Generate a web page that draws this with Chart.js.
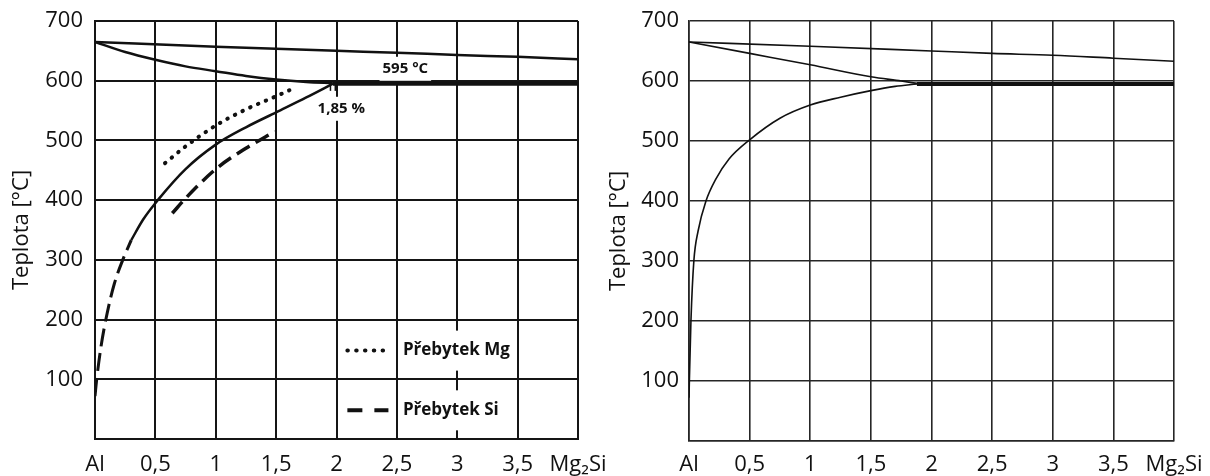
<!DOCTYPE html>
<html><head><meta charset="utf-8">
<script src="https://cdn.jsdelivr.net/npm/chart.js@4.4.1/dist/chart.umd.min.js"></script>
<style>
html,body{margin:0;padding:0;background:#fff;}
#wrap{position:relative;width:1210px;height:476px;overflow:hidden;background:#fff;}
canvas{position:absolute;top:0;}
#c1{left:0;width:620px;height:476px;}
#c2{left:600px;width:610px;height:476px;}
</style></head><body>
<div id="wrap"><canvas id="c1" width="620" height="476"></canvas><canvas id="c2" width="610" height="476"></canvas></div>
<script>
// ---- tick labels ----
const xTickValues = [0, 0.5, 1, 1.5, 2, 2.5, 3, 3.5, 4];
const xTickLabels = ['Al', '0,5', '1', '1,5', '2', '2,5', '3', '3,5', 'Mg₂Si'];
const yTickValues = [0, 100, 200, 300, 400, 500, 600, 700];
const yTickLabels = ['', '100', '200', '300', '400', '500', '600', '700'];
const yTitle = 'Teplota [°C]';

// ---- left diagram ----
const L_liquidusX = [0, 1, 2, 2.5, 3, 3.5, 4];
const L_liquidusT = [665, 657, 650, 647, 643, 640, 636];
const L_solidusX = [0, 0.25, 0.5, 0.75, 1, 1.25, 1.5, 1.75, 1.97];
const L_solidusT = [665, 648, 635, 624, 616, 608, 602, 598, 596];
const L_eutecticX = [1.97, 4];
const L_eutecticT = [595, 595];
const L_solvusX = [0.3, 0.4, 0.52, 0.75, 1.0, 1.25, 1.5, 1.75, 1.97];
const L_solvusT = [333, 368, 400, 452, 493, 522, 547, 572, 595];
const L_solvusLowX = [0, 0.014, 0.05, 0.1, 0.16, 0.23, 0.3];
const L_solvusLowT = [72, 100, 155, 210, 260, 300, 333];
const L_mgX = [0.58, 0.75, 1.0, 1.25, 1.5, 1.61];
const L_mgT = [462, 490, 525, 552, 574, 584];
const L_siX = [0.64, 0.75, 1.0, 1.25, 1.49];
const L_siT = [378, 403, 452, 487, 515];
const L_markX = [1.95, 1.99];
const L_markT = [583, 595];

// ---- right diagram ----
const R_liquidusX = [0, 1, 2, 2.5, 3, 3.5, 4];
const R_liquidusT = [665, 658, 650, 646, 643, 638, 633];
const R_solidusX = [0, 0.5, 1, 1.5, 1.75, 1.88];
const R_solidusT = [665, 646, 627, 607, 600, 596];
const R_eutecticX = [1.88, 4];
const R_eutecticT = [595, 595];
const R_solvusX = [0, 0.003, 0.016, 0.04, 0.075, 0.14, 0.22, 0.33, 0.5, 0.75, 1.0, 1.25, 1.5, 1.7, 1.88];
const R_solvusT = [72, 100, 200, 300, 350, 400, 436, 470, 502, 538, 560, 573, 584, 591, 595];

// ---- annotation texts ----
const eutecticLabel = '595 °C';
const compLabel = '1,85 %';
const legendMg = 'Přebytek Mg';
const legendSi = 'Přebytek Si';

const FONT = "'Open Sans', sans-serif";
const pts = (xs, ts) => xs.map((x, i) => ({x: x, y: ts[i]}));

const textPlugin = {
  id: 'textPlugin',
  beforeDatasetsDraw(chart, args, opts) {
    const ctx = chart.ctx, xs = chart.scales.x, ys = chart.scales.y;
    ctx.save();
    (opts.labels || []).forEach(l => {
      ctx.font = l.font;
      const w = ctx.measureText(l.text).width;
      const px = xs.getPixelForValue(l.x), py = ys.getPixelForValue(l.y);
      const left = l.align === 'left' ? px : px - w / 2;
      ctx.fillStyle = '#fff';
      ctx.fillRect(left - l.padX, py - l.padY, w + 2 * l.padX, 2 * l.padY);
    });
    ctx.restore();
  },
  afterDatasetsDraw(chart, args, opts) {
    const ctx = chart.ctx, xs = chart.scales.x, ys = chart.scales.y;
    ctx.save();
    (opts.labels || []).forEach(l => {
      ctx.font = l.font;
      ctx.fillStyle = '#111';
      ctx.textBaseline = 'middle';
      ctx.textAlign = l.align === 'left' ? 'left' : 'center';
      ctx.fillText(l.text, xs.getPixelForValue(l.x), ys.getPixelForValue(l.y));
    });
    (opts.samples || []).forEach(s => {
      const py = ys.getPixelForValue(s.y);
      ctx.beginPath();
      ctx.strokeStyle = '#111';
      ctx.lineWidth = s.width;
      ctx.lineCap = s.cap;
      ctx.setLineDash(s.dash);
      ctx.moveTo(xs.getPixelForValue(s.x0), py);
      ctx.lineTo(xs.getPixelForValue(s.x1), py);
      ctx.stroke();
    });
    ctx.restore();
  }
};

function makeScales(cfg) {
  return {
    x: {
      type: 'linear', min: 0, max: 4,
      afterBuildTicks: s => { s.ticks = xTickValues.map(v => ({value: v})); },
      afterFit: s => { s.height = cfg.xHeight; s.paddingLeft = 0; s.paddingRight = 0; },
      ticks: {
        autoSkip: false, maxRotation: 0, padding: cfg.xPad, color: '#111',
        font: {family: FONT, size: 22},
        callback: (v, i) => xTickLabels[i]
      },
      grid: {color: cfg.gridColor, lineWidth: cfg.gridWidth, drawTicks: false},
      border: {display: true, color: cfg.gridColor, width: cfg.gridWidth}
    },
    y: {
      type: 'linear', min: 0, max: 700,
      afterBuildTicks: s => { s.ticks = yTickValues.map(v => ({value: v})); },
      afterFit: s => { s.width = cfg.yWidth; s.paddingTop = 0; s.paddingBottom = 0; },
      ticks: {
        padding: cfg.yPad, color: '#111',
        font: {family: FONT, size: 22},
        callback: (v, i) => yTickLabels[i]
      },
      title: {display: true, text: yTitle, color: '#111', font: {family: FONT, size: 22}, padding: {top: cfg.titlePad, bottom: 0}},
      grid: {color: cfg.gridColor, lineWidth: cfg.gridWidth, drawTicks: false},
      border: {display: true, color: cfg.gridColor, width: cfg.gridWidth}
    }
  };
}

function ds(data, width, dash, cap) {
  return {
    data: data, showLine: true, pointRadius: 0, borderColor: '#111', backgroundColor: '#111',
    borderWidth: width, borderDash: dash || [], borderCapStyle: cap || 'butt',
    cubicInterpolationMode: 'monotone', fill: false
  };
}

const common = {
  responsive: false, animation: false, devicePixelRatio: 1,
  plugins: {legend: {display: false}, tooltip: {enabled: false}}
};

new Chart(document.getElementById('c1'), {
  type: 'scatter',
  data: {datasets: [
    ds(pts(L_liquidusX, L_liquidusT), 2.5),
    ds(pts(L_solidusX, L_solidusT), 2.5),
    ds(pts(L_eutecticX, L_eutecticT), 4),
    ds(pts(L_solvusX, L_solvusT), 2.5),
    ds(pts(L_solvusLowX, L_solvusLowT), 3, [18, 7]),
    ds(pts(L_mgX, L_mgT), 4, [0.5, 8], 'round'),
    ds(pts(L_siX, L_siT), 3.5, [15, 7]),
    ds(pts([L_markX[0], L_markX[0]], L_markT), 1.5),
    ds(pts([L_markX[1], L_markX[1]], L_markT), 1.5)
  ]},
  options: Object.assign({}, common, {
    layout: {padding: {top: 21, right: 42, bottom: 0, left: 0}},
    scales: makeScales({xHeight: 37, yWidth: 95, xPad: 13, yPad: 12, titlePad: 9, gridColor: '#151515', gridWidth: 2}),
    plugins: Object.assign({}, common.plugins, {
      textPlugin: {
        labels: [
          {text: eutecticLabel, x: 2.57, y: 620, font: `bold 15px ${FONT}`, padX: 3, padY: 12},
          {text: compLabel, x: 2.04, y: 553, font: `bold 15px ${FONT}`, padX: 3, padY: 12},
          {text: legendMg, x: 2.55, y: 148, align: 'left', font: `bold 17px ${FONT}`, padX: 3, padY: 20},
          {text: legendSi, x: 2.55, y: 48, align: 'left', font: `bold 17px ${FONT}`, padX: 3, padY: 20}
        ],
        samples: [
          {x0: 2.09, x1: 2.41, y: 148, width: 4, dash: [0.5, 8.3], cap: 'round'},
          {x0: 2.09, x1: 2.43, y: 48, width: 4, dash: [15, 12], cap: 'butt'}
        ]
      }
    })
  }),
  plugins: [textPlugin]
});

new Chart(document.getElementById('c2'), {
  type: 'scatter',
  data: {datasets: [
    ds(pts(R_liquidusX, R_liquidusT), 1.6),
    ds(pts(R_solidusX, R_solidusT), 1.6),
    ds(pts(R_eutecticX, R_eutecticT), 4),
    ds(pts(R_solvusX, R_solvusT), 1.6)
  ]},
  options: Object.assign({}, common, {
    layout: {padding: {top: 21, right: 36, bottom: 0, left: 0}},
    scales: makeScales({xHeight: 35, yWidth: 89, xPad: 11, yPad: 10, titlePad: 6, gridColor: '#262626', gridWidth: 1.6}),
    plugins: Object.assign({}, common.plugins, {textPlugin: {labels: [], samples: []}})
  }),
  plugins: [textPlugin]
});
</script>
</body></html>
